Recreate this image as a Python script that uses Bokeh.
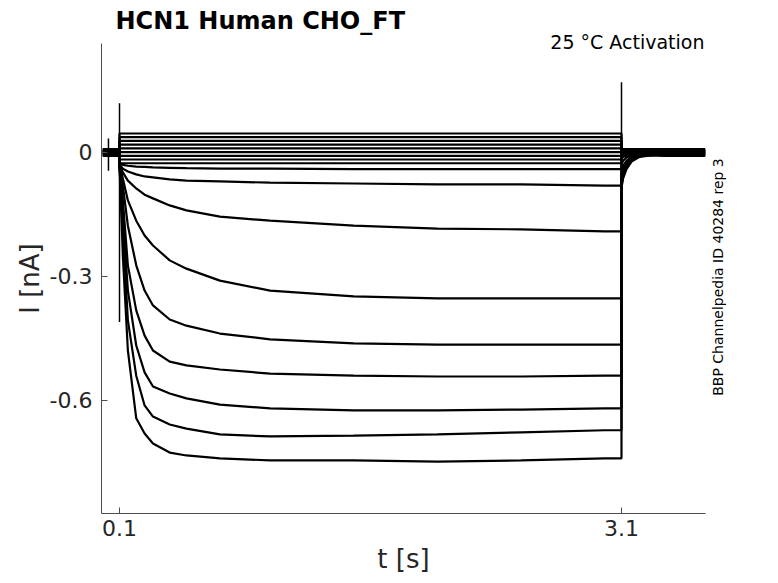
import math
from bokeh.plotting import figure
from bokeh.models import Range1d, FixedTicker, Label
from bokeh.embed import file_html
from bokeh.resources import INLINE

# ---------------- data ----------------
TITLE = "HCN1  Human  CHO_FT"
SUBTITLE = "25 °C  Activation"
SIDE_NOTE = "BBP Channelpedia ID 40284 rep 3"
X_LABEL = "t [s]"
Y_LABEL = "I [nA]"
X_TICKS = [0.1, 3.1]
X_TICK_LABELS = ["0.1", "3.1"]
Y_TICKS = [0.0, -0.3, -0.6]
Y_TICK_LABELS = ["0", "-0.3", "-0.6"]
X_LIMITS = [-0.0076, 3.602]
Y_LIMITS = [-0.8734, 0.2637]

# time bases [s]
T_HOLD = [0.0, 0.1]
T_STEP = [0.1, 0.12, 0.15, 0.2, 0.25, 0.3, 0.4, 0.5, 0.7, 1.0, 1.5, 2.0, 2.5, 3.0, 3.1]
T_TAIL = [3.1, 3.11, 3.13, 3.16, 3.2, 3.25, 3.35, 3.6]
T_FLAT = [0.1, 3.1]
T_FLAT_TAIL = [3.1, 3.6]

# activating traces: current during the step [nA]
I_step_a = [-0.031, -0.250, -0.479, -0.643, -0.680, -0.704, -0.726, -0.733, -0.740, -0.745, -0.745, -0.748, -0.745, -0.740, -0.740]
I_step_b = [-0.031, -0.189, -0.406, -0.540, -0.612, -0.639, -0.658, -0.668, -0.682, -0.687, -0.685, -0.682, -0.677, -0.672, -0.672]
I_step_c = [-0.031, -0.152, -0.334, -0.467, -0.532, -0.566, -0.583, -0.595, -0.610, -0.619, -0.624, -0.624, -0.622, -0.619, -0.619]
I_step_d = [-0.031, -0.116, -0.273, -0.382, -0.443, -0.479, -0.506, -0.515, -0.525, -0.535, -0.540, -0.542, -0.542, -0.540, -0.540]
I_step_e = [-0.031, -0.080, -0.177, -0.273, -0.334, -0.370, -0.404, -0.419, -0.438, -0.452, -0.462, -0.465, -0.465, -0.465, -0.465]
I_step_f = [-0.031, -0.063, -0.116, -0.165, -0.201, -0.225, -0.261, -0.281, -0.310, -0.334, -0.348, -0.353, -0.353, -0.353, -0.353]
I_step_g = [-0.031, -0.048, -0.068, -0.087, -0.102, -0.111, -0.128, -0.140, -0.155, -0.165, -0.177, -0.184, -0.186, -0.191, -0.191]
I_step_h = [-0.029, -0.039, -0.046, -0.053, -0.058, -0.060, -0.065, -0.068, -0.070, -0.073, -0.075, -0.077, -0.077, -0.080, -0.080]
I_step_i = [-0.025, -0.030, -0.032, -0.034, -0.035, -0.036, -0.037, -0.038, -0.039, -0.039, -0.040, -0.040, -0.040, -0.040, -0.040]

# tail currents after the step [nA]
I_tail_a = [-0.085, -0.062, -0.040, -0.022, -0.012, -0.002, 0.002, 0.002]
I_tail_b = [-0.080, -0.058, -0.037, -0.020, -0.011, -0.008, -0.006, -0.006]
I_tail_c = [-0.074, -0.054, -0.034, -0.018, -0.010, 0.001, 0.005, 0.005]
I_tail_d = [-0.066, -0.048, -0.030, -0.016, -0.008, -0.005, -0.003, -0.003]
I_tail_e = [-0.056, -0.040, -0.025, -0.013, -0.007, 0.004, 0.007, 0.007]
I_tail_f = [-0.045, -0.032, -0.020, -0.010, -0.005, -0.004, -0.008, -0.008]
I_tail_g = [-0.028, -0.020, -0.012, -0.006, -0.003, 0.000, 0.003, 0.003]
I_tail_h = [-0.015, -0.011, -0.007, -0.004, -0.002, -0.001, -0.001, -0.001]
I_tail_i = [-0.008, -0.006, -0.004, -0.002, -0.001, 0.001, 0.000, 0.000]

# holding level before the step for the activating traces [nA]
I_hold_active = [0.002, -0.006, 0.005, -0.003, 0.007, -0.008, 0.003, -0.001, 0.000]

# non-activating traces: level during the step, baseline before/after [nA]
I_flat_level = [0.046, 0.037, 0.028, 0.019, 0.010, 0.001, -0.008, -0.017, -0.026]
I_flat_base = [0.004, -0.003, 0.006, -0.006, 0.001, -0.002, 0.008, -0.007, 0.000]

# capacitive artefacts [s], [nA]
ART_PRE_T = [0.034, 0.034]
ART_PRE_I = [0.034, -0.044]
ART_ON_T = [0.1, 0.1]
ART_ON_I = [0.119, -0.41]
ART_OFF_T = [3.1, 3.1]
ART_OFF_I = [0.170, -0.01]

STEP_SERIES = [I_step_a, I_step_b, I_step_c, I_step_d, I_step_e, I_step_f, I_step_g, I_step_h, I_step_i]
TAIL_SERIES = [I_tail_a, I_tail_b, I_tail_c, I_tail_d, I_tail_e, I_tail_f, I_tail_g, I_tail_h, I_tail_i]

# ---------------- layout (pixels on the canvas) ----------------
W, H = 770, 575
FR_L, FR_R, FR_T, FR_B = 101, 705, 43, 513
SX = (FR_R - FR_L) / (X_LIMITS[1] - X_LIMITS[0])
SY = (FR_B - FR_T) / (Y_LIMITS[1] - Y_LIMITS[0])


def px2x(px):
    return X_LIMITS[0] + (px - FR_L) / SX


def py2y(py):
    return Y_LIMITS[1] - (py - FR_T) / SY


p = figure(width=W, height=H, output_backend="svg", toolbar_location=None,
           x_range=Range1d(px2x(0), px2x(W)), y_range=Range1d(py2y(H), py2y(0)),
           min_border=0)
p.grid.visible = False
p.outline_line_color = None
p.background_fill_color = "white"
p.border_fill_color = "white"

TRACE_COLOR = "black"
LW = 2.2

for hold, step, tail in zip(I_hold_active, STEP_SERIES, TAIL_SERIES):
    xs = T_HOLD + T_STEP + T_TAIL
    ys = [hold, hold] + step + tail
    p.line(xs, ys, line_color=TRACE_COLOR, line_width=LW)

for level, base in zip(I_flat_level, I_flat_base):
    xs = T_HOLD + T_FLAT + T_FLAT_TAIL
    ys = [base, base, level, level, base, base]
    p.line(xs, ys, line_color=TRACE_COLOR, line_width=LW)

p.line(ART_PRE_T, ART_PRE_I, line_color=TRACE_COLOR, line_width=1.5)
p.line(ART_ON_T, ART_ON_I, line_color=TRACE_COLOR, line_width=1.5)
p.line(ART_OFF_T, ART_OFF_I, line_color=TRACE_COLOR, line_width=1.5)

# axes (pinned to the data limits, only left and bottom)
AX_COL = "#4d4d4d"
TXT_COL = "#262626"
for ax in (p.xaxis[0], p.yaxis[0]):
    ax.axis_line_color = AX_COL
    ax.axis_line_width = 1
    ax.major_tick_line_color = AX_COL
    ax.major_tick_in = 6
    ax.major_tick_out = 0
    ax.minor_tick_line_color = None
    ax.major_label_text_font = "DejaVu Sans"
    ax.major_label_text_font_size = "22px"
    ax.major_label_text_color = TXT_COL
    ax.axis_label_text_font = "DejaVu Sans"
    ax.axis_label_text_font_size = "26px"
    ax.axis_label_text_font_style = "normal"
    ax.axis_label_text_color = TXT_COL

p.xaxis.fixed_location = Y_LIMITS[0]
p.xaxis.bounds = (X_LIMITS[0], X_LIMITS[1])
p.xaxis.ticker = FixedTicker(ticks=X_TICKS)
p.xaxis.major_label_overrides = dict(zip(X_TICKS, X_TICK_LABELS))
p.xaxis.axis_label = X_LABEL
p.xaxis.major_label_standoff = 6
p.xaxis.axis_label_standoff = 5

p.yaxis.fixed_location = X_LIMITS[0]
p.yaxis.bounds = (Y_LIMITS[0], Y_LIMITS[1])
p.yaxis.ticker = FixedTicker(ticks=Y_TICKS)
p.yaxis.major_label_overrides = dict(zip(Y_TICKS, Y_TICK_LABELS))
p.yaxis.axis_label = Y_LABEL
p.yaxis.major_label_standoff = 9
p.yaxis.axis_label_standoff = 2

# texts
p.add_layout(Label(x=px2x(115), y=py2y(20.5), text=TITLE, text_font="DejaVu Sans",
                   text_font_style="bold", text_font_size="24px", text_color="black",
                   text_align="left", text_baseline="alphabetic"))
p.add_layout(Label(x=px2x(710), y=py2y(41), text=SUBTITLE, text_font="DejaVu Sans",
                   text_font_size="19px", text_color="black",
                   text_align="right", text_baseline="alphabetic"))
p.add_layout(Label(x=px2x(717), y=py2y(276.5), text=SIDE_NOTE, text_font="DejaVu Sans",
                   text_font_size="14px", text_color="black", angle=math.pi / 2,
                   text_align="center", text_baseline="middle"))

open("out.html", "w").write(file_html(p, INLINE))
